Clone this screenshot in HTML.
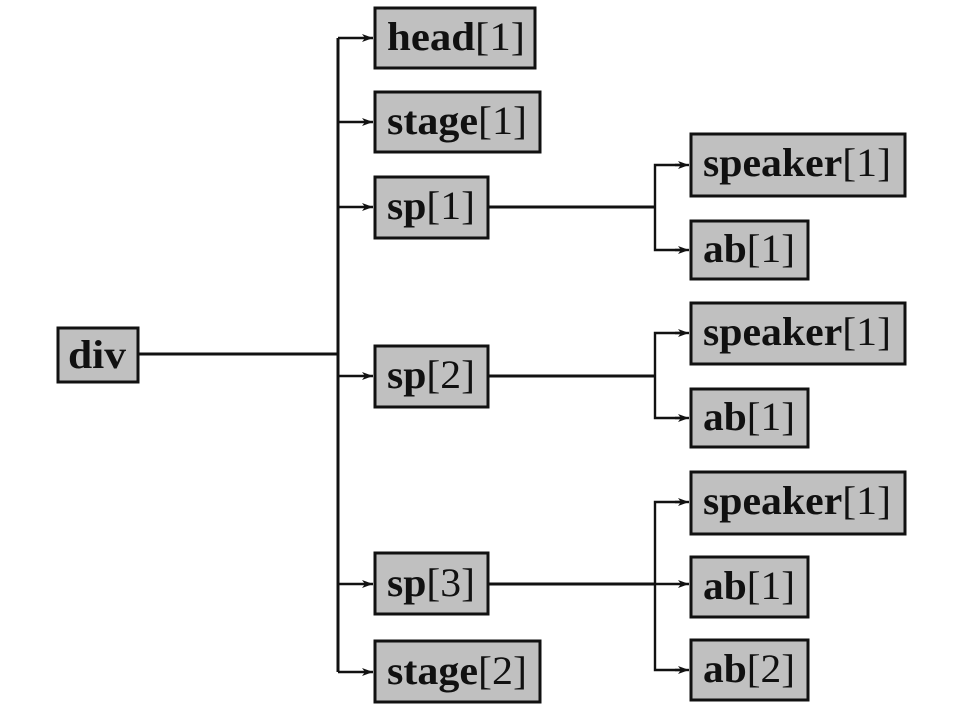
<!DOCTYPE html>
<html><head><style>
html,body{margin:0;padding:0;background:#fff;}
text{font-family:"Liberation Serif",serif;font-size:40px;fill:#111;}
</style></head><body>
<svg width="957" height="714" viewBox="0 0 957 714" xmlns="http://www.w3.org/2000/svg">
<defs><marker id="a" markerWidth="12" markerHeight="10" refX="11" refY="5" orient="auto" markerUnits="userSpaceOnUse"><path d="M0,1 L11,5 L0,9 L3,5 Z" fill="#111"/></marker></defs>
<g stroke="#111" stroke-width="3" fill="none">
<line x1="138" y1="354" x2="338" y2="354"/>
<line x1="338" y1="38" x2="338" y2="672"/>
<g stroke-width="2.4" marker-end="url(#a)">
<line x1="338" y1="38" x2="373" y2="38"/>
<line x1="338" y1="122" x2="373" y2="122"/>
<line x1="338" y1="207" x2="373" y2="207"/>
<line x1="338" y1="376" x2="373" y2="376"/>
<line x1="338" y1="584" x2="373" y2="584"/>
<line x1="338" y1="672" x2="373" y2="672"/>
</g>
<line x1="489" y1="207" x2="655" y2="207"/>
<line x1="489" y1="376" x2="655" y2="376"/>
<line x1="489" y1="584" x2="655" y2="584"/>
<g stroke-width="2.4">
<polyline points="680,165 655,165 655,250 680,250" />
<polyline points="680,333 655,333 655,418 680,418" />
<polyline points="680,502 655,502 655,670 680,670" />
<line x1="655" y1="584" x2="689" y2="584" marker-end="url(#a)"/>
</g>
<g stroke-width="2.4" marker-end="url(#a)">
<line x1="675" y1="165" x2="689" y2="165"/>
<line x1="675" y1="250" x2="689" y2="250"/>
<line x1="675" y1="333" x2="689" y2="333"/>
<line x1="675" y1="418" x2="689" y2="418"/>
<line x1="675" y1="502" x2="689" y2="502"/>
<line x1="675" y1="670" x2="689" y2="670"/>
</g>
</g>
<g fill="#c0c0c0" stroke="#111" stroke-width="3">
<rect x="58" y="328" width="80" height="54"/>
<rect x="375" y="8" width="160" height="60"/>
<rect x="375" y="92" width="165" height="60"/>
<rect x="375" y="177" width="113" height="61"/>
<rect x="375" y="346" width="113" height="61"/>
<rect x="375" y="553" width="113" height="61"/>
<rect x="375" y="641" width="165" height="61"/>
<rect x="691" y="134" width="214" height="62"/>
<rect x="691" y="221" width="117" height="58"/>
<rect x="691" y="303" width="214" height="61"/>
<rect x="691" y="389" width="117" height="58"/>
<rect x="691" y="472" width="214" height="62"/>
<rect x="691" y="557" width="117" height="60"/>
<rect x="691" y="640" width="117" height="60"/>
</g>
<text x="68" y="368" textLength="58" lengthAdjust="spacingAndGlyphs"><tspan font-weight="bold">div</tspan></text>
<text x="387" y="50" textLength="138" lengthAdjust="spacingAndGlyphs"><tspan font-weight="bold">head</tspan>[1]</text>
<text x="387" y="134" textLength="140" lengthAdjust="spacingAndGlyphs"><tspan font-weight="bold">stage</tspan>[1]</text>
<text x="387" y="219" textLength="88" lengthAdjust="spacingAndGlyphs"><tspan font-weight="bold">sp</tspan>[1]</text>
<text x="387" y="388" textLength="88" lengthAdjust="spacingAndGlyphs"><tspan font-weight="bold">sp</tspan>[2]</text>
<text x="387" y="596" textLength="88" lengthAdjust="spacingAndGlyphs"><tspan font-weight="bold">sp</tspan>[3]</text>
<text x="387" y="684" textLength="140" lengthAdjust="spacingAndGlyphs"><tspan font-weight="bold">stage</tspan>[2]</text>
<text x="703" y="176" textLength="188" lengthAdjust="spacingAndGlyphs"><tspan font-weight="bold">speaker</tspan>[1]</text>
<text x="703" y="262" textLength="92" lengthAdjust="spacingAndGlyphs"><tspan font-weight="bold">ab</tspan>[1]</text>
<text x="703" y="345" textLength="188" lengthAdjust="spacingAndGlyphs"><tspan font-weight="bold">speaker</tspan>[1]</text>
<text x="703" y="430" textLength="92" lengthAdjust="spacingAndGlyphs"><tspan font-weight="bold">ab</tspan>[1]</text>
<text x="703" y="514" textLength="188" lengthAdjust="spacingAndGlyphs"><tspan font-weight="bold">speaker</tspan>[1]</text>
<text x="703" y="599" textLength="92" lengthAdjust="spacingAndGlyphs"><tspan font-weight="bold">ab</tspan>[1]</text>
<text x="703" y="682" textLength="92" lengthAdjust="spacingAndGlyphs"><tspan font-weight="bold">ab</tspan>[2]</text>
</svg>
</body></html>
